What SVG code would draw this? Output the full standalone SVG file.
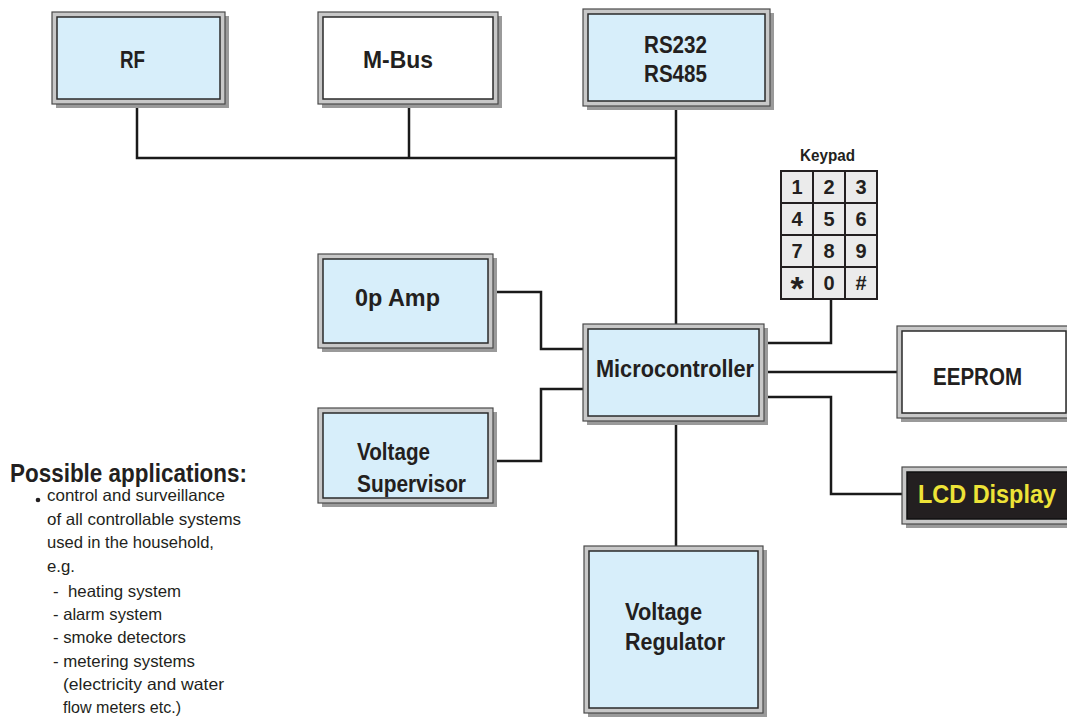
<svg xmlns="http://www.w3.org/2000/svg" width="1067" height="717" viewBox="0 0 1067 717">
<style>
.sh{fill:#9a9a9a}
.ob{fill:#c8c8c8;stroke:#4a4a4a;stroke-width:1.2}
.ib{stroke:#2a2a2a;stroke-width:1.5}
.blue{fill:#d7eefa}
.white{fill:#ffffff}
.lbl{font-family:"Liberation Sans Narrow","Liberation Sans",sans-serif;font-weight:bold;font-size:24px;fill:#231f20}
.key{font-family:"Liberation Sans Narrow","Liberation Sans",sans-serif;font-weight:bold;font-size:20px;fill:#231f20;text-anchor:middle}
.star{font-size:34px}
.cell{fill:#ebebeb;stroke:#231f20;stroke-width:2}
.txt{font-family:"Liberation Sans Narrow","Liberation Sans",sans-serif;font-size:16.5px;fill:#231f20}
.con{fill:none;stroke:#1a1a1a;stroke-width:2.5}
</style>
<rect width="1067" height="717" fill="#ffffff"/>
<g id="connectors">
<polyline class="con" points="137,104 137,158 676,158"/>
<line class="con" x1="409" y1="104" x2="409" y2="158"/>
<line class="con" x1="676" y1="106" x2="676" y2="324"/>
<polyline class="con" points="831,299 831,343 766,343"/>
<line class="con" x1="766" y1="372" x2="897" y2="372"/>
<polyline class="con" points="766,397 831,397 831,494 902,494"/>
<polyline class="con" points="493,292 541,292 541,349 583,349"/>
<polyline class="con" points="493,461 541,461 541,389 583,389"/>
<line class="con" x1="676" y1="421" x2="676" y2="546"/>
</g>
<g id="rf">
<rect class="sh" x="56" y="16" width="173" height="92"/>
<rect class="ob" x="52" y="12" width="173" height="92"/>
<rect class="ib blue" x="57" y="17" width="163" height="82"/>
<text class="lbl" x="120" y="68" textLength="25" lengthAdjust="spacingAndGlyphs">RF</text>
</g>
<g id="mbus">
<rect class="sh" x="322" y="16" width="180" height="92"/>
<rect class="ob" x="318" y="12" width="180" height="92"/>
<rect class="ib white" x="323" y="17" width="170" height="82"/>
<text class="lbl" x="363" y="68" textLength="70" lengthAdjust="spacingAndGlyphs">M-Bus</text>
</g>
<g id="rs">
<rect class="sh" x="587" y="13" width="187" height="97"/>
<rect class="ob" x="583" y="9" width="187" height="97"/>
<rect class="ib blue" x="588" y="14" width="177" height="87"/>
<text class="lbl" x="644" y="53" textLength="63" lengthAdjust="spacingAndGlyphs">RS232</text>
<text class="lbl" x="644" y="82" textLength="63" lengthAdjust="spacingAndGlyphs">RS485</text>
</g>
<g id="keypad">
<text x="800" y="161" textLength="55" lengthAdjust="spacingAndGlyphs" font-family="Liberation Sans Narrow, Liberation Sans, sans-serif" font-weight="bold" font-size="16" fill="#231f20">Keypad</text>
<rect class="cell" x="781" y="171" width="32" height="32"/>
<rect class="cell" x="813" y="171" width="32" height="32"/>
<rect class="cell" x="845" y="171" width="32" height="32"/>
<rect class="cell" x="781" y="203" width="32" height="32"/>
<rect class="cell" x="813" y="203" width="32" height="32"/>
<rect class="cell" x="845" y="203" width="32" height="32"/>
<rect class="cell" x="781" y="235" width="32" height="32"/>
<rect class="cell" x="813" y="235" width="32" height="32"/>
<rect class="cell" x="845" y="235" width="32" height="32"/>
<rect class="cell" x="781" y="267" width="32" height="32"/>
<rect class="cell" x="813" y="267" width="32" height="32"/>
<rect class="cell" x="845" y="267" width="32" height="32"/>
<text class="key" x="797" y="194">1</text>
<text class="key" x="829" y="194">2</text>
<text class="key" x="861" y="194">3</text>
<text class="key" x="797" y="226">4</text>
<text class="key" x="829" y="226">5</text>
<text class="key" x="861" y="226">6</text>
<text class="key" x="797" y="258">7</text>
<text class="key" x="829" y="258">8</text>
<text class="key" x="861" y="258">9</text>
<text class="key star" x="797" y="300">*</text>
<text class="key" x="829" y="290">0</text>
<text class="key" x="861" y="290">#</text>
</g>
<g id="opamp">
<rect class="sh" x="322" y="258" width="175" height="94"/>
<rect class="ob" x="318" y="254" width="175" height="94"/>
<rect class="ib blue" x="323" y="259" width="165" height="84"/>
<text class="lbl" x="355" y="306" textLength="85" lengthAdjust="spacingAndGlyphs">0p Amp</text>
</g>
<g id="supervisor">
<rect class="sh" x="322" y="412" width="175" height="95"/>
<rect class="ob" x="318" y="408" width="175" height="95"/>
<rect class="ib blue" x="323" y="413" width="165" height="85"/>
<text class="lbl" x="357" y="460" textLength="73" lengthAdjust="spacingAndGlyphs">Voltage</text>
<text class="lbl" x="357" y="492" textLength="109" lengthAdjust="spacingAndGlyphs">Supervisor</text>
</g>
<g id="micro">
<rect class="sh" x="587" y="328" width="181" height="97"/>
<rect class="ob" x="583" y="324" width="181" height="97"/>
<rect class="ib blue" x="588" y="329" width="171" height="87"/>
<text class="lbl" x="596" y="377" textLength="158" lengthAdjust="spacingAndGlyphs">Microcontroller</text>
</g>
<g id="eeprom">
<rect class="sh" x="901" y="330" width="166" height="92"/>
<rect class="ob" x="897" y="326" width="171" height="92"/>
<rect class="ib white" x="902" y="331" width="164" height="82"/>
<text class="lbl" x="933" y="385" textLength="89" lengthAdjust="spacingAndGlyphs">EEPROM</text>
</g>
<g id="lcd">
<rect class="sh" x="906" y="471" width="161" height="57"/>
<rect class="ob" x="902" y="467" width="166" height="57"/>
<rect x="907" y="472" width="161" height="47" fill="#231f20" stroke="#111" stroke-width="1.5"/>
<text x="918" y="503" textLength="138" lengthAdjust="spacingAndGlyphs" font-family="Liberation Sans Narrow, Liberation Sans, sans-serif" font-weight="bold" font-size="26" fill="#ede337">LCD Display</text>
</g>
<g id="regulator">
<rect class="sh" x="588" y="550" width="179" height="167"/>
<rect class="ob" x="584" y="546" width="179" height="167"/>
<rect class="ib blue" x="589" y="551" width="169" height="157"/>
<text class="lbl" x="625" y="620" textLength="77" lengthAdjust="spacingAndGlyphs">Voltage</text>
<text class="lbl" x="625" y="650" textLength="100" lengthAdjust="spacingAndGlyphs">Regulator</text>
</g>
<g id="applications">
<text x="10" y="482" textLength="237" lengthAdjust="spacingAndGlyphs" font-family="Liberation Sans Narrow, Liberation Sans, sans-serif" font-weight="bold" font-size="25" fill="#231f20">Possible applications:</text>
<circle cx="38" cy="500" r="2.3" fill="#231f20"/>
<text class="txt" x="47" y="501" textLength="178" lengthAdjust="spacingAndGlyphs">control and surveillance</text>
<text class="txt" x="47" y="525" textLength="194" lengthAdjust="spacingAndGlyphs">of all controllable systems</text>
<text class="txt" x="47" y="548" textLength="167" lengthAdjust="spacingAndGlyphs">used in the household,</text>
<text class="txt" x="47" y="572" textLength="28" lengthAdjust="spacingAndGlyphs">e.g.</text>
<text class="txt" x="53" y="597" textLength="128" lengthAdjust="spacingAndGlyphs" xml:space="preserve">-  heating system</text>
<text class="txt" x="53" y="620" textLength="109" lengthAdjust="spacingAndGlyphs">- alarm system</text>
<text class="txt" x="53" y="643" textLength="133" lengthAdjust="spacingAndGlyphs">- smoke detectors</text>
<text class="txt" x="53" y="667" textLength="142" lengthAdjust="spacingAndGlyphs">- metering systems</text>
<text class="txt" x="63" y="690" textLength="161" lengthAdjust="spacingAndGlyphs">(electricity and water</text>
<text class="txt" x="63" y="713" textLength="118" lengthAdjust="spacingAndGlyphs">flow meters etc.)</text>
</g>
</svg>
